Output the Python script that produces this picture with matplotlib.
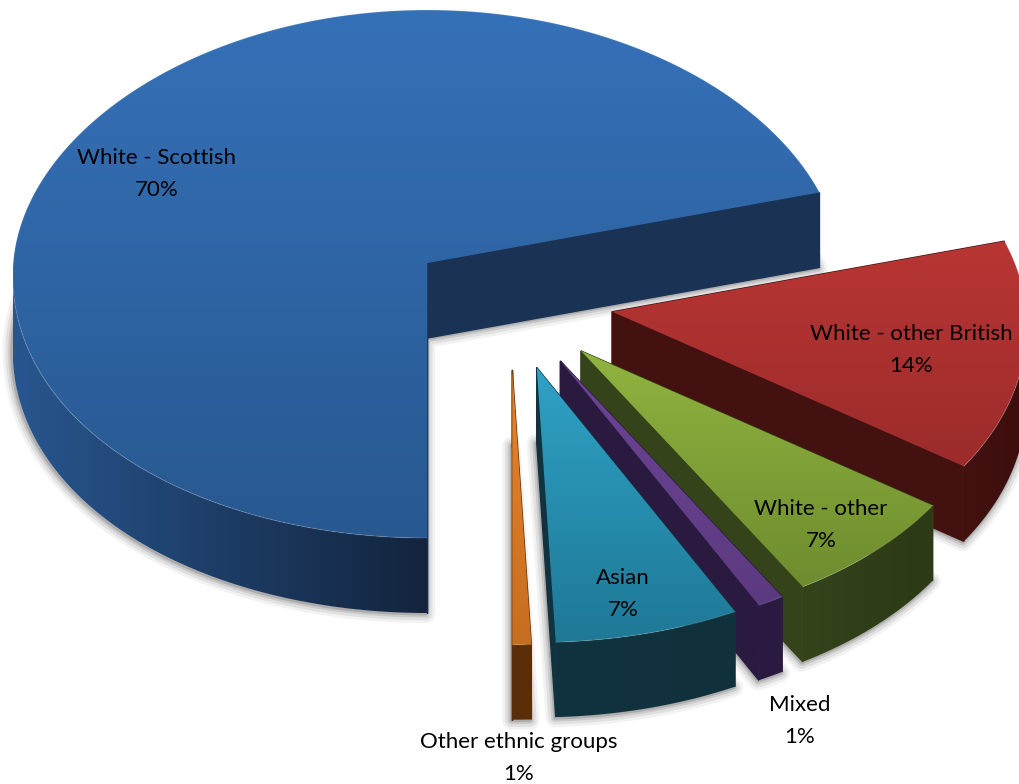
import numpy as np
import matplotlib
matplotlib.use('Agg')
import matplotlib.pyplot as plt
from matplotlib.colors import LinearSegmentedColormap
from matplotlib.patches import Polygon

# share of each group, in drawing order (back to front)
groups = ['White - Scottish', 'White - other British', 'White - other', 'Mixed', 'Asian', 'Other ethnic groups']
shares = [70.5, 14.0, 6.9, 1.0, 6.9, 0.7]
shown = ['70%', '14%', '7%', '1%', '7%', '1%']

# colours: top face light/dark, outer wall light/dark, cut wall
top_light = ['#3571b8', '#b83634', '#90b440', '#6c4495', '#2fa2c6', '#e9832a']
top_dark = ['#285890', '#9c2b2b', '#6e8c2e', '#5c3a80', '#1f7896', '#c66e20']
wall_light = ['#28568f', '#421110', '#34431a', '#2a1a40', '#11333f', '#5a2e08']
wall_dark = ['#13243d', '#3d0e0d', '#2c3a15', '#2a1a40', '#10303c', '#5a2e08']
cut_col = ['#1a3355', '#421110', '#34431a', '#2a1a40', '#11333f', '#5a2e08']

label_pos = [(157, 174), (911, 350), (821, 525), (800, 721), (623, 594), (519, 758)]

# pie geometry in picture pixels
CX, CY = 510, 301
RX, RY_BACK, RY_FRONT = 414, 253, 275
DEPTH = 75
EXPLODE = 0.25
START = -90
STRETCH = 0.048  # near part of the rim is wider, far part narrower

plt.rcParams['font.family'] = ['Lato', 'DejaVu Sans']

fig = plt.figure(figsize=(10.2, 7.84), dpi=100)
ax = fig.add_axes([0, 0, 1, 1])
ax.set_xlim(0, 1020)
ax.set_ylim(784, 0)
ax.axis('off')


def project(deg, r, stretch=0.0):
    # flat circle to tilted ellipse, back half is a bit squashed
    t = np.radians(deg)
    s = np.sin(t)
    ry = np.where(s > 0, RY_BACK, RY_FRONT)
    return RX * r * np.cos(t) * (1 - stretch * s), -ry * r * s


def grad_fill(poly, c1, c2, horizontal=False, zorder=1):
    cmap = LinearSegmentedColormap.from_list('g', [c1, c2])
    x0, x1 = poly[:, 0].min(), poly[:, 0].max()
    y0, y1 = poly[:, 1].min(), poly[:, 1].max()
    ramp = np.linspace(0, 1, 256)
    ramp = ramp.reshape(1, -1) if horizontal else ramp.reshape(-1, 1)
    im = ax.imshow(ramp, cmap=cmap, extent=(x0, x1, y1, y0), aspect='auto',
                   interpolation='bilinear', zorder=zorder)
    patch = Polygon(poly, closed=True, transform=ax.transData, fc='none', ec='none')
    ax.add_patch(patch)
    im.set_clip_path(patch)


def cut_wall(apex_pt, end, down, color, zorder):
    wall = np.array([apex_pt, end, end + down, apex_pt + down])
    ax.add_patch(Polygon(wall, closed=True, fc=color, ec=color, lw=1, zorder=zorder))


angle = START
z = 1
for i, share in enumerate(shares):
    # clockwise from the bottom of the pie
    a0 = angle
    a1 = angle - share * 3.6
    angle = a1
    mid = (a0 + a1) / 2
    ox, oy = project(mid, EXPLODE)
    ax0 = CX + ox
    ay0 = CY + oy

    arc = np.linspace(a0, a1, 240)
    rx, ry = project(arc, 1.0, STRETCH)
    rim = np.column_stack([ax0 + rx, ay0 + ry])
    apex = np.array([[ax0, ay0]])
    top = np.vstack([apex, rim])
    down = np.array([0, DEPTH])

    # soft shadow from the bottom face
    for lw, alpha in [(13, 0.05), (9, 0.07), (5, 0.10), (2, 0.14)]:
        ax.add_patch(Polygon(top + down + np.array([-1, 1]), closed=True, fc='none', ec='black',
                             lw=lw, alpha=alpha, joinstyle='round', zorder=z))
    z += 1

    cut_wall(apex[0], rim[0], down, cut_col[i], z)
    z += 1

    # outer wall, only the front part can be seen
    front = rim[np.sin(np.radians(arc)) <= 0]
    outer = np.vstack([front, (front + down)[::-1]])
    grad_fill(outer, wall_light[i], wall_dark[i], horizontal=True, zorder=z)
    z += 1

    # this cut goes over the wall so no seam shows where they meet
    cut_wall(apex[0], rim[-1], down, cut_col[i], z)
    z += 1

    # top face
    grad_fill(top, top_light[i], top_dark[i], zorder=z)
    z += 1
    ax.plot(rim[:, 0], rim[:, 1], color='white', alpha=0.1, lw=1, zorder=z)
    z += 1

for name, pct, (tx, ty) in zip(groups, shown, label_pos):
    ax.text(tx, ty, name + '\n' + pct, ha='center', va='center', fontsize=16,
            linespacing=1.72, color='black', zorder=z)

ax.set_xlim(0, 1020)
ax.set_ylim(784, 0)
fig.savefig('out.png', dpi=100)
